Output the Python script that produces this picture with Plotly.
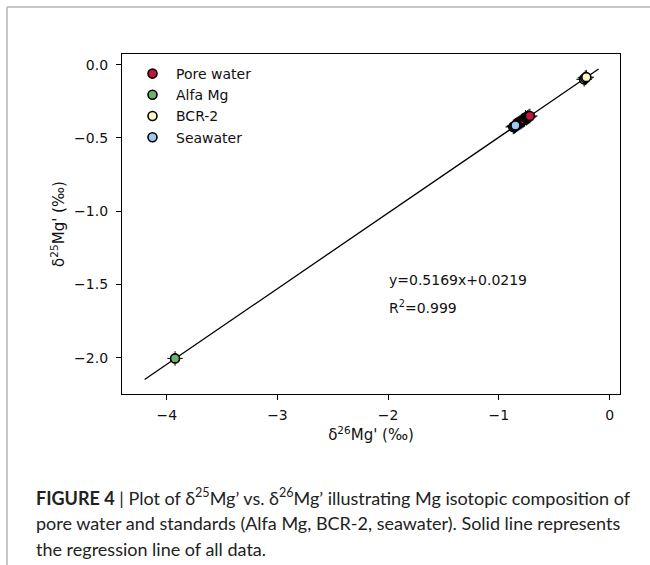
import plotly.graph_objects as go

# ---------------- data ----------------
pore_x = [-0.86, -0.85, -0.84, -0.83, -0.82, -0.81, -0.80, -0.79, -0.78, -0.77, -0.76, -0.75, -0.74, -0.73, -0.72]
pore_y = [-0.42, -0.415, -0.41, -0.405, -0.40, -0.395, -0.39, -0.385, -0.38, -0.375, -0.36, -0.365, -0.36, -0.355, -0.35]

alfa_x = [-3.925]
alfa_y = [-2.005]

bcr_x = [-0.23, -0.22, -0.21]
bcr_y = [-0.10, -0.09, -0.085]

sea_x = [-0.87, -0.86, -0.85]
sea_y = [-0.425, -0.42, -0.415]

err_x = 0.07
err_y = 0.05

slope = 0.5169
intercept = 0.0219
r2 = 0.999
fit_x = [-4.2, -0.1]

x_ticks = [-4, -3, -2, -1, 0]
y_ticks = [0.0, -0.5, -1.0, -1.5, -2.0]

series = [
    ("Pore water", pore_x, pore_y, "#c8143c"),
    ("Alfa Mg", alfa_x, alfa_y, "#6db36d"),
    ("BCR-2", bcr_x, bcr_y, "#fbf5c4"),
    ("Seawater", sea_x, sea_y, "#9fc8ee"),
]

# ---------------- figure ----------------
W, H = 650, 565
L, R, T, B = 122, 30, 54, 171
pw, ph = W - L - R, H - T - B


def px2x(px):
    return (px - L) / pw


def py2y(py):
    return (H - B - py) / ph


fig = go.Figure()

fit_y = [slope * v + intercept for v in fit_x]
fig.add_trace(go.Scatter(x=fit_x, y=fit_y, mode="lines",
                         line=dict(color="black", width=1.3),
                         showlegend=False, hoverinfo="skip"))

for name, xs, ys, col in series:
    fig.add_trace(go.Scatter(
        x=xs, y=ys, mode="markers", name=name,
        marker=dict(size=9, color=col, line=dict(color="black", width=1.6)),
        error_x=dict(type="constant", value=err_x, color="black", thickness=1, width=0),
        error_y=dict(type="constant", value=err_y, color="black", thickness=1, width=0),
    ))

tick_font = dict(family="DejaVu Sans", size=14, color="#111")
title_font = dict(family="DejaVu Sans", size=15, color="#111")
axis_common = dict(
    showline=True, linecolor="black", linewidth=1.3, mirror=True,
    ticks="outside", ticklen=5, tickwidth=1, tickcolor="black",
    showgrid=False, zeroline=False,
    tickfont=tick_font,
)

fig.update_xaxes(range=[-4.404, 0.094], tickvals=x_ticks, ticklabelstandoff=3,
                 title=dict(text="δ<sup>26</sup>Mg' (‰)", font=title_font, standoff=7),
                 **axis_common)
fig.update_yaxes(range=[-2.248, 0.073], tickvals=y_ticks, tickformat=".1f", ticklabelstandoff=5,
                 title=dict(text="δ<sup>25</sup>Mg' (‰)", font=title_font, standoff=5),
                 **axis_common)

annotations = [
    dict(x=px2x(387), y=py2y(280), xref="paper", yref="paper", xanchor="left", yanchor="middle",
         text=f"y={slope:.4f}x+{intercept:.4f}", showarrow=False, font=tick_font),
    dict(x=px2x(387), y=py2y(307), xref="paper", yref="paper", xanchor="left", yanchor="middle",
         text=f"R<sup>2</sup>={r2:.3f}", showarrow=False, font=tick_font),
]

cap_font = dict(family="Lato, Liberation Sans", size=18, color="#222")
caption = [
    "<b>FIGURE 4</b> | Plot of δ<sup>25</sup>Mg’ vs. δ<sup>26</sup>Mg’ illustrating Mg isotopic composition of",
    "pore water and standards (Alfa Mg, BCR-2, seawater). Solid line represents",
    "the regression line of all data.",
]
for i, line in enumerate(caption):
    annotations.append(dict(x=px2x(34), y=py2y(497 + 26 * i), xref="paper", yref="paper",
                            xanchor="left", yanchor="middle", text=line, showarrow=False,
                            font=cap_font))

shapes = [
    dict(type="line", xref="paper", yref="paper", x0=px2x(7), x1=px2x(652), y0=py2y(7), y1=py2y(7),
         line=dict(color="#b5b5b5", width=1.5)),
    dict(type="line", xref="paper", yref="paper", x0=px2x(7), x1=px2x(7), y0=py2y(7), y1=py2y(567),
         line=dict(color="#b5b5b5", width=1.5)),
]

fig.update_layout(
    width=W, height=H,
    margin=dict(l=L, r=R, t=T, b=B),
    paper_bgcolor="white", plot_bgcolor="white",
    annotations=annotations, shapes=shapes,
    legend=dict(x=px2x(129), y=py2y(58), xanchor="left", yanchor="top",
                bgcolor="rgba(0,0,0,0)", borderwidth=0,
                font=tick_font, itemwidth=37, tracegroupgap=0),
    showlegend=True,
)

fig.write_html("out.html",
               config={"displayModeBar": False},
               post_script="document.body.style.margin='0';document.body.style.overflow='hidden';")
